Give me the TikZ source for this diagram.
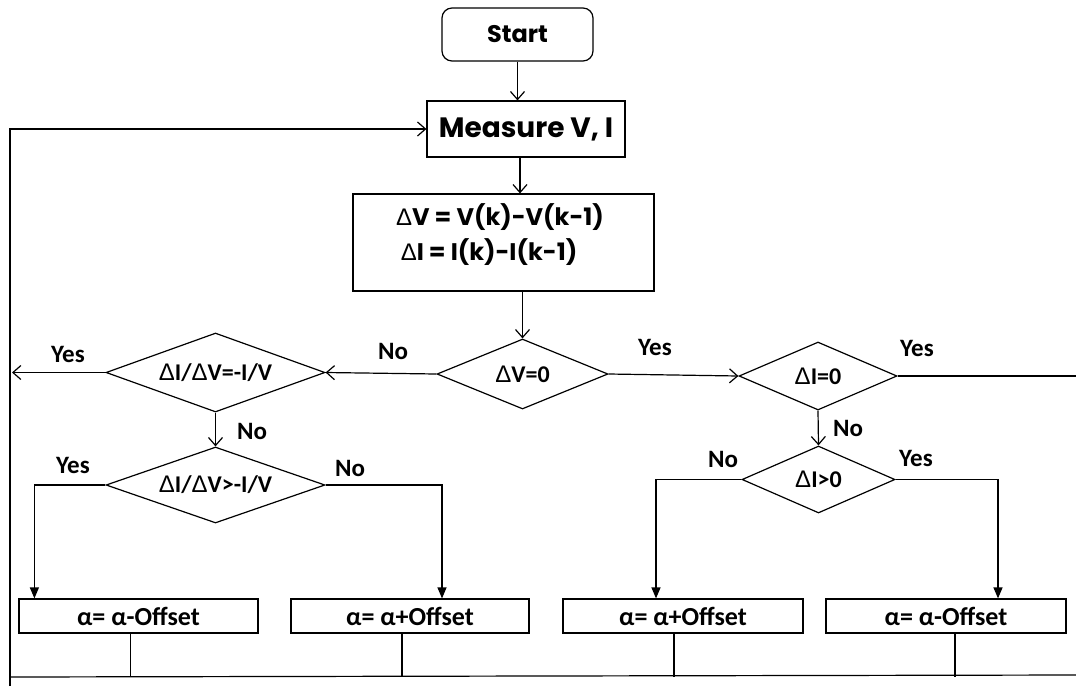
\documentclass[tikz,border=0pt]{standalone}
\usepackage{fontspec}
\setmainfont{Carlito}
\newfontfamily\gothicfont{Poppins}
\newfontfamily\deltafont{Liberation Sans}
\newcommand{\dlt}{{\deltafont\mdseries Δ}}
\usetikzlibrary{
    arrows.meta,
    calc,
    positioning,
    shapes.geometric
}

\begin{document}
\begin{tikzpicture}[
    x=1pt, y=-1pt,
    line width=1.2pt,
    every node/.style={font=\bfseries\fontsize{24}{28}\selectfont},
    procbox/.style={draw, rectangle, inner sep=0pt},
    gothic/.style={font=\gothicfont\bfseries\fontsize{#1}{#1}\selectfont},
    decision/.style={draw, diamond, inner sep=0pt, aspect=2.5},
    update/.style={procbox, minimum height=34pt, font=\bfseries\fontsize{26}{28}\selectfont},
    lbl/.style={font=\bfseries\fontsize{25}{28}\selectfont, inner sep=0pt},
    flow/.style={draw, -{Straight Barb[length=8pt,width=14pt]}},
    feed/.style={draw, -{Triangle[length=11pt,width=9pt]}},
    wire/.style={draw}
]
\useasboundingbox (0,0) rectangle (1076,686);

% top of the chart
\node[procbox, rounded corners=10pt, minimum width=151pt, minimum height=53pt,
    gothic=24] (start) at (517.5,34.5) {Start};
\node[procbox, minimum width=198pt, minimum height=56pt,
    gothic=28] (meas) at (526,129) {Measure V, I};
\node[procbox, minimum width=301pt, minimum height=97pt] (diff) at (503.5,242.5) {};
\node[gothic=24] (dvtxt) at (500,217) {\dlt V = V(k)-V(k-1)};
\node[gothic=24] (ditxt) at (489,252) {\dlt I = I(k)-I(k-1)};

% decisions
\node[decision, minimum width=171pt, minimum height=70pt] (dv0) at (522.5,374) {\dlt V=0};
\node[decision, minimum width=219pt, minimum height=79pt] (slope) at (215.5,372.5) {\dlt I/\dlt V=-I/V};
\node[decision, minimum width=219pt, minimum height=76pt] (incr) at (215.5,485) {\dlt I/\dlt V>-I/V};
\node[decision, minimum width=158pt, minimum height=68pt] (di0) at (818,376) {\dlt I=0};
\node[decision, minimum width=153pt, minimum height=67pt] (dip) at (818.5,479.5) {\dlt I>0};

% duty updates
\node[update, minimum width=239pt] (dec1) at (138.5,616) {α= α-Offset};
\node[update, minimum width=238pt] (inc1) at (410,616) {α= α+Offset};
\node[update, minimum width=240pt] (inc2) at (683,616) {α= α+Offset};
\node[update, minimum width=240pt] (dec2) at (946,616) {α= α-Offset};

% branch labels
\node[lbl] (nodv) at (393,351) {No};
\node[lbl] (yesdv) at (655,347) {Yes};
\node[lbl] (yesslope) at (68,354) {Yes};
\node[lbl] (noslope) at (252,431) {No};
\node[lbl] (yesincr) at (73,465) {Yes};
\node[lbl] (noincr) at (350,468) {No};
\node[lbl] (yesdi) at (917,348) {Yes};
\node[lbl] (nodi) at (848,428) {No};
\node[lbl] (nodip) at (723,459) {No};
\node[lbl] (yesdip) at (916,458) {Yes};

% free ends
\coordinate (fbl) at (10,686);
\coordinate (bl) at (10,677);
\coordinate (br) at (1076,675);
\coordinate (yesend) at (12,372.5);
\coordinate (rend) at (1076,376);
\coordinate (m1) at ($(meas.south)+(-6,0)$);
\coordinate (o1) at ($(dec1.south)+(-8,0)$);
\coordinate (o2) at ($(inc1.south)+(-8,0)$);
\coordinate (o3) at ($(inc2.south)+(-9,0)$);
\coordinate (o4) at ($(dec2.south)+(9,0)$);

% connectors
\draw[flow] (start.south) -- (start.south |- meas.north);
\draw[flow] (m1) -- (m1 |- diff.north);
\draw[flow] (dv0.north |- diff.south) -- (dv0.north);
\draw[flow] (dv0.west) -- (slope.east);
\draw[flow] (slope.west) -- (yesend);
\draw[flow] (slope.south) -- (incr.north);
\draw[flow] (dv0.east) -- (di0.west);
\draw[wire] (di0.east) -- (rend);
\draw[flow] (di0.south) -- (dip.north);
\draw[feed] (incr.west) -| ($(dec1.north west)+(16,0)$);
\draw[feed] (incr.east) -| ($(inc1.north)+(32,0)$);
\draw[feed] (dip.west) -| ($(inc2.north)+(-27,0)$);
\draw[feed] (dip.east) -| ($(dec2.north)+(52,0)$);

% back to measuring
\draw[wire] (o1) -- (o1 |- bl);
\draw[wire] (o2) -- (o2 |- bl);
\draw[wire] (o3) -- (o3 |- bl);
\draw[wire] (o4) -- (o4 |- bl);
\draw[wire] (bl) -- (br);
\draw[flow] (fbl) |- (meas.west);

\end{tikzpicture}
\end{document}
